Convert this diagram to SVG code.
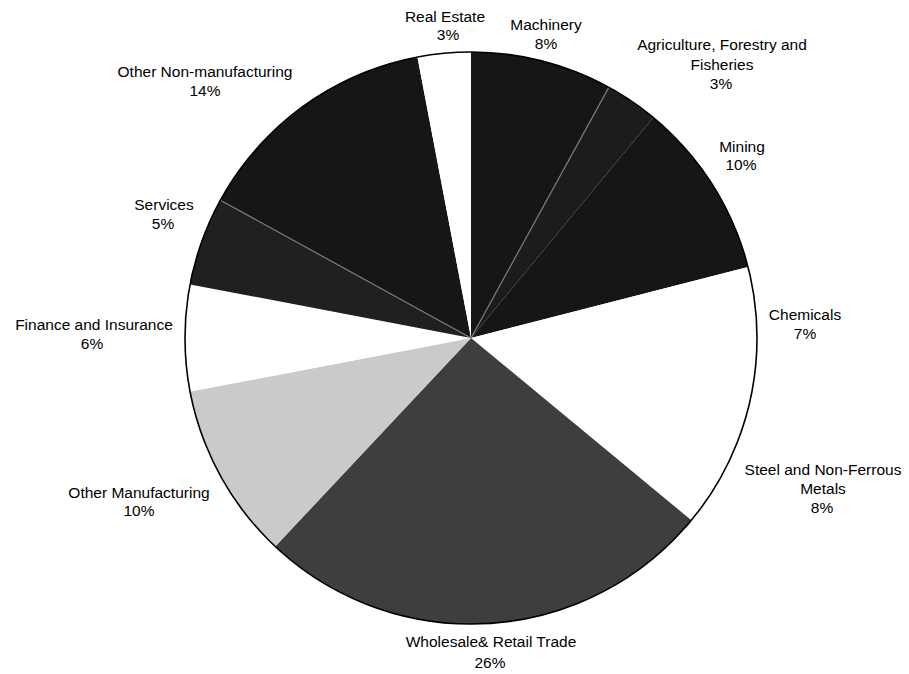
<svg xmlns="http://www.w3.org/2000/svg" width="909" height="674" viewBox="0 0 909 674">
<style>
  .lbl { font-family: "Liberation Sans", Arial, sans-serif; font-size: 15.5px; fill: #000; text-anchor: middle; }
  .slice { stroke: none; }
  .dark { fill: #161616; }
  .sep { stroke: #7a7a7a; stroke-width: 1.2; fill: none; }
  .rim { fill: none; stroke: #000; stroke-width: 1.6; }
</style>
<rect x="0" y="0" width="909" height="674" fill="#fff"/>

<g id="slice-machinery"><path class="slice dark" d="M471,338 L471,52 A286,286 0 0 1 608.8,87.4 Z"/></g>
<g id="slice-agriculture"><path class="slice" fill="#1c1c1c" d="M471,338 L608.8,87.4 A286,286 0 0 1 653.3,117.6 Z"/></g>
<g id="slice-mining"><path class="slice dark" d="M471,338 L653.3,117.6 A286,286 0 0 1 748.0,266.9 Z"/></g>
<g id="slice-chemicals"><path class="slice" fill="#ffffff" d="M471,338 L748.0,266.9 A286,286 0 0 1 751.9,391.6 Z"/></g>
<g id="slice-steel"><path class="slice" fill="#ffffff" d="M471,338 L751.9,391.6 A286,286 0 0 1 691.4,520.3 Z"/></g>
<g id="slice-wholesale"><path class="slice" fill="#3e3e3e" d="M471,338 L691.4,520.3 A286,286 0 0 1 275.2,546.5 Z"/></g>
<g id="slice-other-manufacturing"><path class="slice" fill="#cacaca" d="M471,338 L275.2,546.5 A286,286 0 0 1 190.1,391.6 Z"/></g>
<g id="slice-finance"><path class="slice" fill="#ffffff" d="M471,338 L190.1,391.6 A286,286 0 0 1 190.1,284.4 Z"/></g>
<g id="slice-services"><path class="slice" fill="#202020" d="M471,338 L190.1,284.4 A286,286 0 0 1 220.4,200.2 Z"/></g>
<g id="slice-other-non-manufacturing"><path class="slice dark" d="M471,338 L220.4,200.2 A286,286 0 0 1 417.4,57.1 Z"/></g>
<g id="slice-real-estate"><path class="slice" fill="#ffffff" d="M471,338 L417.4,57.1 A286,286 0 0 1 471,52 Z"/></g>

<g id="separators">
  <line class="sep" x1="471" y1="338" x2="608.8" y2="87.4"/>
  <line class="sep" x1="471" y1="338" x2="220.4" y2="200.2"/>
</g>
<circle class="rim" cx="471" cy="338" r="286"/>

<g id="labels">
  <g id="label-real-estate"><text class="lbl" x="445" y="22">Real Estate</text><text class="lbl" x="448" y="40">3%</text></g>
  <g id="label-machinery"><text class="lbl" x="546" y="30">Machinery</text><text class="lbl" x="546" y="49">8%</text></g>
  <g id="label-agriculture"><text class="lbl" x="722" y="50">Agriculture, Forestry and</text><text class="lbl" x="722" y="70">Fisheries</text><text class="lbl" x="721" y="89">3%</text></g>
  <g id="label-mining"><text class="lbl" x="742" y="152">Mining</text><text class="lbl" x="741" y="170">10%</text></g>
  <g id="label-chemicals"><text class="lbl" x="805" y="320">Chemicals</text><text class="lbl" x="805" y="339">7%</text></g>
  <g id="label-steel"><text class="lbl" x="823" y="475">Steel and Non-Ferrous</text><text class="lbl" x="823" y="494">Metals</text><text class="lbl" x="822" y="513">8%</text></g>
  <g id="label-wholesale"><text class="lbl" x="491" y="647">Wholesale&amp; Retail Trade</text><text class="lbl" x="490" y="668">26%</text></g>
  <g id="label-other-manufacturing"><text class="lbl" x="139" y="498">Other Manufacturing</text><text class="lbl" x="139" y="516">10%</text></g>
  <g id="label-finance"><text class="lbl" x="94" y="330">Finance and Insurance</text><text class="lbl" x="92" y="349">6%</text></g>
  <g id="label-services"><text class="lbl" x="164" y="210">Services</text><text class="lbl" x="163" y="229">5%</text></g>
  <g id="label-other-non-manufacturing"><text class="lbl" x="205" y="77">Other Non-manufacturing</text><text class="lbl" x="205" y="96">14%</text></g>
</g>
</svg>
